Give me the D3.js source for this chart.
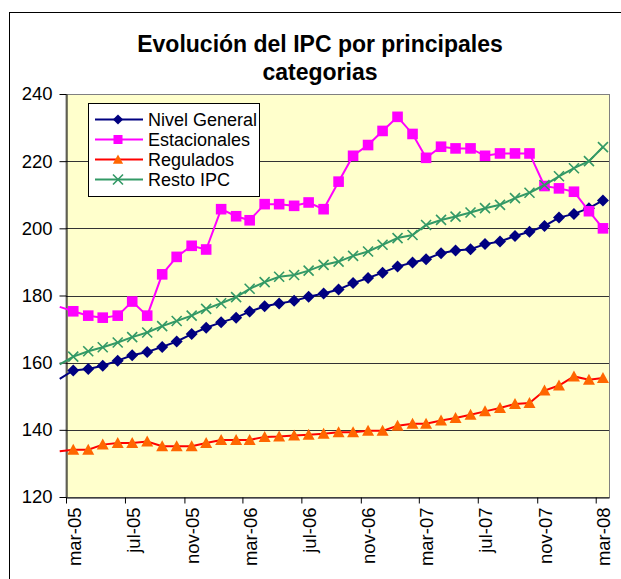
<!DOCTYPE html>
<html>
<head>
<meta charset="utf-8">
<script src="https://cdn.jsdelivr.net/npm/d3@7"></script>
<style>
  body { margin: 0; background: #fff; }
  svg { display: block; font-family: Arial, "Liberation Sans", sans-serif; }
</style>
</head>
<body>
<div id="chart"></div>
<script>
var width  = 621;
var height = 579;

// months (first one, feb-05, sits just left of the axis start)
var meses = ["2005-02","2005-03","2005-04","2005-05","2005-06","2005-07","2005-08","2005-09",
             "2005-10","2005-11","2005-12","2006-01","2006-02","2006-03","2006-04","2006-05",
             "2006-06","2006-07","2006-08","2006-09","2006-10","2006-11","2006-12","2007-01",
             "2007-02","2007-03","2007-04","2007-05","2007-06","2007-07","2007-08","2007-09",
             "2007-10","2007-11","2007-12","2008-01","2008-02","2008-03"];

var nivelGeneral = [155.2, 157.7, 158.1, 159.1, 160.6, 162.2, 163.2, 164.7, 166.3, 168.5,
                    170.4, 172.0, 173.4, 175.2, 176.8, 177.6, 178.4, 179.6, 180.6, 181.8,
                    183.7, 185.2, 186.8, 188.6, 189.8, 190.8, 192.6, 193.4, 193.8, 195.3,
                    196.1, 197.7, 199.0, 200.7, 203.2, 204.3, 206.0, 208.3];

var estacionales = [176.6, 175.3, 174.0, 173.4, 174.0, 178.2, 174.0, 186.3, 191.5, 194.8,
                    193.7, 205.7, 203.6, 202.4, 207.2, 207.2, 206.7, 207.7, 205.7, 213.9,
                    221.6, 224.8, 229.0, 233.2, 228.1, 221.0, 224.3, 223.8, 223.8, 221.6,
                    222.3, 222.3, 222.3, 212.6, 211.9, 210.9, 205.1, 200.0];

var regulados = [133.6, 134.1, 134.1, 135.6, 136.1, 136.1, 136.5, 135.1, 135.1, 135.1,
                 136.1, 137.0, 137.0, 137.0, 137.9, 138.0, 138.3, 138.5, 138.8, 139.3,
                 139.3, 139.7, 139.7, 141.2, 141.8, 141.8, 142.8, 143.5, 144.5, 145.5,
                 146.5, 147.7, 148.0, 151.7, 153.2, 155.9, 154.9, 155.4];

var restoIPC = [159.5, 161.8, 163.4, 164.6, 166.0, 167.6, 169.0, 170.9, 172.4, 174.0,
                176.0, 177.7, 179.5, 182.0, 184.0, 185.6, 186.1, 187.4, 189.1, 190.1,
                191.8, 193.1, 195.1, 197.1, 198.0, 201.0, 202.5, 203.5, 204.7, 206.0,
                207.0, 209.0, 210.6, 212.9, 215.5, 217.9, 220.0, 224.2];

var tickMeses  = ["2005-03","2005-07","2005-11","2006-03","2006-07","2006-11","2007-03","2007-07","2007-11","2008-03"];
var tickLabels = ["mar-05","jul-05","nov-05","mar-06","jul-06","nov-06","mar-07","jul-07","nov-07","mar-08"];
var yTicks = [120, 140, 160, 180, 200, 220, 240];

var series = [
  { name: "Nivel General", values: nivelGeneral, line: "#000080", fill: "#000080", marker: "diamond" },
  { name: "Estacionales",  values: estacionales, line: "#FF00FF", fill: "#FF00FF", marker: "square" },
  { name: "Regulados",     values: regulados,    line: "#FF0000", fill: "#FF6600", marker: "triangle" },
  { name: "Resto IPC",     values: restoIPC,     line: "#339966", fill: "#339966", marker: "cross" }
];

var plot = { left: 66, right: 609, top: 94, bottom: 497 };

var parseMes = d3.timeParse("%Y-%m-%d");

var x = d3.scaleTime()
  .domain([new Date(2005, 2, 1), new Date(2008, 2, 28, 12)])
  .range([plot.left, plot.right]);

var y = d3.scaleLinear()
  .domain([120, 240])
  .range([plot.bottom, plot.top]);

var svg = d3.select("#chart")
  .append("svg")
  .attr("width", width)
  .attr("height", height);

// outer chart frame (clipped on right and bottom like the picture)
svg.append("rect")
  .attr("x", 9.5).attr("y", 12.5)
  .attr("width", 700).attr("height", 700)
  .attr("fill", "#fff")
  .attr("stroke", "#000");

// title
var title = svg.append("text")
  .attr("text-anchor", "middle")
  .style("font-size", "23px")
  .style("font-weight", "bold");
title.append("tspan").attr("x", 320).attr("y", 52).text("Evolución del IPC por principales");
title.append("tspan").attr("x", 320).attr("y", 80).text("categorias");

// plot background
svg.append("rect")
  .attr("x", plot.left).attr("y", plot.top + 0.5)
  .attr("width", plot.right - plot.left + 0.5)
  .attr("height", plot.bottom - plot.top)
  .attr("fill", "#FFFFCC")
  .attr("stroke", "#808080");

// gridlines
svg.append("g")
  .selectAll("line")
  .data(yTicks.filter(function(d) { return d > 120 && d < 240; }))
  .enter()
  .append("line")
  .attr("x1", plot.left).attr("x2", plot.right)
  .attr("y1", function(d) { return Math.round(y(d)) + 0.5; })
  .attr("y2", function(d) { return Math.round(y(d)) + 0.5; })
  .attr("stroke", "#333")
  .attr("stroke-width", 1.2);

// axes
var yAxis = svg.append("g")
  .attr("transform", "translate(" + (plot.left + 0.5) + ",0)")
  .call(d3.axisLeft(y).tickValues(yTicks).tickSize(7).tickSizeOuter(0).tickPadding(7));
yAxis.selectAll("text").style("font-size", "18.5px").attr("fill", "#000");
yAxis.selectAll("line,path").attr("stroke", "#000");

var xAxis = svg.append("g")
  .attr("transform", "translate(0," + (plot.bottom + 0.5) + ")")
  .call(d3.axisBottom(x)
    .tickValues(tickMeses.map(function(m) { return parseMes(m + "-01"); }))
    .tickFormat(function(d, i) { return tickLabels[i]; })
    .tickSize(6)
    .tickSizeOuter(0));
xAxis.selectAll("line,path").attr("stroke", "#000");
xAxis.selectAll("text")
  .style("font-size", "18.5px")
  .attr("fill", "#000")
  .attr("text-anchor", "end")
  .attr("transform", "rotate(-90)")
  .attr("x", -10)
  .attr("y", 0)
  .attr("dy", "0.76em");

// marker shapes
function drawMarker(sel, type, color, s) {
  if (type == "diamond") {
    sel.append("path")
      .attr("d", "M0," + (-6 * s) + "L" + (6 * s) + ",0L0," + (6 * s) + "L" + (-6 * s) + ",0Z")
      .attr("fill", color);
  } else if (type == "square") {
    sel.append("rect")
      .attr("x", -5.3 * s).attr("y", -5.3 * s)
      .attr("width", 10.6 * s).attr("height", 10.6 * s)
      .attr("fill", color);
  } else if (type == "triangle") {
    sel.append("path")
      .attr("d", "M0," + (-6 * s) + "L" + (6 * s) + "," + (5 * s) + "L" + (-6 * s) + "," + (5 * s) + "Z")
      .attr("fill", color);
  } else {
    sel.append("path")
      .attr("d", "M-5,-5L5,5M-5,5L5,-5")
      .attr("stroke", color)
      .attr("stroke-width", 1.6)
      .attr("fill", "none");
  }
}

var line = d3.line()
  .x(function(d) { return x(d.date); })
  .y(function(d) { return y(d.value); });

series.forEach(function(s) {
  var pts = s.values.map(function(v, i) {
    return { date: parseMes(meses[i] + "-16"), value: v };
  });
  var g = svg.append("g");
  g.append("path")
    .datum(pts)
    .attr("d", line)
    .attr("fill", "none")
    .attr("stroke", s.line)
    .attr("stroke-width", 2);
  g.selectAll(".m")
    .data(pts.filter(function(d) { return d.date >= x.domain()[0]; }))
    .enter()
    .append("g")
    .attr("class", "m")
    .attr("transform", function(d) { return "translate(" + x(d.date) + "," + y(d.value) + ")"; })
    .each(function() { drawMarker(d3.select(this), s.marker, s.fill, 1); });
});

// legend
var legend = svg.append("g");
legend.append("rect")
  .attr("x", 88.5).attr("y", 103.5)
  .attr("width", 171).attr("height", 93)
  .attr("fill", "#fff")
  .attr("stroke", "#000");

var item = legend.selectAll(".item")
  .data(series)
  .enter()
  .append("g")
  .attr("class", "item")
  .attr("transform", function(d, i) { return "translate(0," + (119.5 + i * 20) + ")"; });

item.append("line")
  .attr("x1", 95).attr("x2", 143)
  .attr("stroke", function(d) { return d.line; })
  .attr("stroke-width", 2);

item.append("g")
  .attr("transform", "translate(118,0)")
  .each(function(d) { drawMarker(d3.select(this), d.marker, d.fill, 0.85); });

item.append("text")
  .attr("x", 148)
  .attr("dy", "0.35em")
  .style("font-size", "18px")
  .text(function(d) { return d.name; });
</script>
</body>
</html>
